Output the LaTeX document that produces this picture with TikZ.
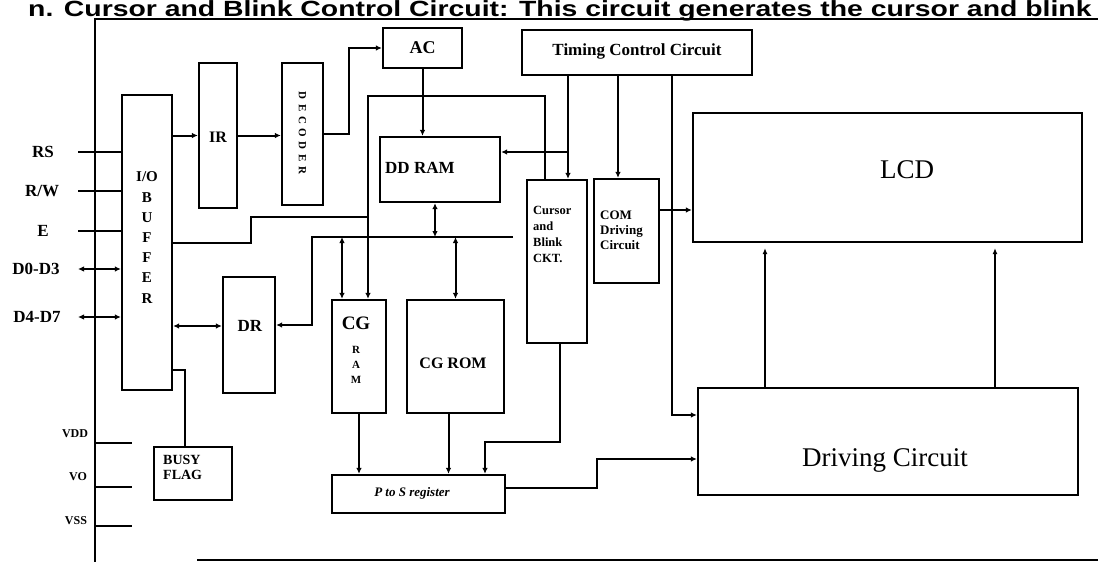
\documentclass[tikz,border=0pt]{standalone}
\usepackage{graphicx}
\usepackage{fontspec}
\setmainfont{Liberation Serif}
\newfontfamily\titlefont{Liberation Sans}
\usetikzlibrary{arrows.meta,calc}
\begin{document}
\begin{tikzpicture}[x=1pt,y=-1pt,
  box/.style={draw,line width=2.2pt,inner sep=0pt},
  conn/.style={line width=2pt},
  arr/.style={conn,-{Latex[length=6pt,width=5.5pt]}},
  biarr/.style={conn,{Latex[length=6pt,width=5.5pt]}-{Latex[length=6pt,width=5.5pt]}},
  thinarr/.style={line width=1.4pt,-{Latex[length=6pt,width=5pt]},shorten >=5pt},
  lbl/.style={inner sep=0pt,font=\bfseries\fontsize{17}{19}\selectfont},
  small/.style={inner sep=0pt,align=left,anchor=north west},
]
\fill[white] (0,0) rectangle (1098,562);
\useasboundingbox (0,0) rectangle (1098,562);

% title and frame
\node[anchor=base west,inner sep=0pt,font=\titlefont\bfseries\fontsize{22}{24}\selectfont] (title) at (28,16.5) {\scalebox{1.29}[1]{n. Cursor and Blink Control Circuit: This circuit generates the cursor and blink}};
\draw[line width=2pt] (95,562) -- (95,19) -- (1098,19);
\draw[line width=2pt] (197,560) -- (1098,560);

% boxes
\node[box,minimum width=50pt,minimum height=295pt] (io) at (147,242.5) {};
\node[box,minimum width=38pt,minimum height=145pt] (ir) at (218,135.5) {};
\node[box,minimum width=41pt,minimum height=142pt] (dec) at (302.5,134) {};
\node[box,minimum width=79pt,minimum height=40pt] (ac) at (422.5,48) {};
\node[box,minimum width=230pt,minimum height=45pt] (tcc) at (637,52.5) {};
\node[box,minimum width=120pt,minimum height=65pt] (ddram) at (440,169.5) {};
\node[box,minimum width=60pt,minimum height=163pt] (cur) at (557,261.5) {};
\node[box,minimum width=65pt,minimum height=104pt] (com) at (626.5,231) {};
\node[box,minimum width=389pt,minimum height=129pt] (lcd) at (887.5,177.5) {};
\node[box,minimum width=380pt,minimum height=107pt] (drv) at (888,441.5) {};
\node[box,minimum width=52pt,minimum height=116pt] (dr) at (249,335) {};
\node[box,minimum width=54pt,minimum height=113pt] (cgram) at (359,356.5) {};
\node[box,minimum width=97pt,minimum height=113pt] (cgrom) at (455.5,356.5) {};
\node[box,minimum width=173pt,minimum height=38pt] (ps) at (418.5,494) {};
\node[box,minimum width=78pt,minimum height=53pt] (busy) at (193,473.5) {};

% labels
\node[lbl,align=center,font=\bfseries\fontsize{15}{20.2}\selectfont] (iolbl) at (147,237.5) {I/O\\B\\U\\F\\F\\E\\R};
\node[lbl,font=\bfseries\fontsize{16}{18}\selectfont] (irlbl) at (218,137) {IR};
\node[rotate=-90,inner sep=0pt,font=\bfseries\fontsize{11}{12}\selectfont] (declbl) at (302.5,133) {D\kern4.5pt E\kern4.5pt C\kern4.5pt O\kern4.5pt D\kern4.5pt E\kern4.5pt R};
\node[lbl,font=\bfseries\fontsize{18}{20}\selectfont] (aclbl) at (422.5,48) {AC};
\node[lbl,font=\bfseries\fontsize{17}{19}\selectfont] (tcclbl) at (637,51) {Timing Control Circuit};
\node[lbl,anchor=west] (ddlbl) at (385,168) {DD RAM};
\node[small,font=\bfseries\fontsize{12.5}{16}\selectfont] (curlbl) at (533,206) {Cursor\\and\\Blink\\CKT.};
\node[small,font=\bfseries\fontsize{13}{15}\selectfont] (comlbl) at (600,211) {COM\\Driving\\Circuit};
\node[inner sep=0pt,font=\fontsize{27}{30}\selectfont] (lcdlbl) at (907,170) {LCD};
\node[inner sep=0pt,font=\fontsize{27}{30}\selectfont] (drvlbl) at (885,460) {Driving Circuit};
\node[lbl] (drlbl) at (250,326) {DR};
\node[lbl,font=\bfseries\fontsize{19}{21}\selectfont] (cglbl) at (356,323) {CG};
\node[inner sep=0pt,align=center,font=\bfseries\fontsize{11}{15}\selectfont] (ramlbl) at (356,365) {R\\A\\M};
\node[lbl,font=\bfseries\fontsize{16}{18}\selectfont] (cgromlbl) at (453,363) {CG ROM};
\node[inner sep=0pt,font=\bfseries\itshape\fontsize{13}{15}\selectfont] (pslbl) at (412,493) {P to S register};
\node[small,font=\bfseries\fontsize{14}{15}\selectfont] (busylbl) at (163,455) {BUSY\\FLAG};

% signal pins
\node[lbl] (lrs) at (43,152) {RS};
\node[lbl] (lrw) at (42,191) {R/W};
\node[lbl] (le) at (43,231) {E};
\node[lbl] (ld0) at (36,269) {D0-D3};
\node[lbl] (ld4) at (37,317) {D4-D7};
\coordinate (crs) at (78,152);
\coordinate (crw) at (78,191);
\coordinate (ce) at (78,231);
\coordinate (cd0) at (78,269);
\coordinate (cd4) at (78,317);
\draw[conn] (crs) -- (crs -| io.west);
\draw[conn] (crw) -- (crw -| io.west);
\draw[conn] (ce) -- (ce -| io.west);
\draw[biarr] (cd0) -- (cd0 -| io.west);
\draw[biarr] (cd4) -- (cd4 -| io.west);

% power pins
\node[inner sep=0pt,font=\bfseries\fontsize{12}{14}\selectfont] (lvdd) at (75,434) {VDD};
\node[inner sep=0pt,font=\bfseries\fontsize{12}{14}\selectfont] (lvo) at (78,477) {VO};
\node[inner sep=0pt,font=\bfseries\fontsize{12}{14}\selectfont] (lvss) at (76,521) {VSS};
\coordinate (pvdd) at (95,443);
\coordinate (pvo) at (95,487);
\coordinate (pvss) at (95,526);
\draw[conn] (pvdd) -- ++(37,0);
\draw[conn] (pvo) -- ++(37,0);
\draw[conn] (pvss) -- ++(37,0);

% connections
\draw[arr] (ir.west -| io.east) -- (ir.west);
\draw[arr] (ir.east) -- (ir.east -| dec.west);
\draw[arr] (dec.east) -- ++(25,0) |- (ac.west);
\draw[arr] (ac.south) -- (ac.south |- ddram.north);

\coordinate (tx1) at (568,0);
\coordinate (tx2) at (618,0);
\coordinate (tx3) at (672,0);
\coordinate (ddE) at ([yshift=17.5pt]ddram.east);
\coordinate (drvT) at ([yshift=26.5pt]drv.west);
\draw[arr] (tcc.south -| tx1) -- (cur.north -| tx1);
\draw[arr] (tcc.south -| tx2) -- (com.north -| tx2);
\draw[arr] (tcc.south -| tx3) |- (drvT);
\draw[arr] (ddE -| tx1) -- (ddE);

\coordinate (curT) at ([xshift=-12pt]cur.north);
\coordinate (cgrT2) at ([xshift=9pt]cgram.north);
\draw[arr] (curT) -- ++(0,-83) -| (cgrT2);

\coordinate (j1) at (368,217);
\draw[conn] (io.east) -- ++(78,0) |- (j1);

\coordinate (busL) at (312,237);
\coordinate (busR) at (513,237);
\coordinate (drE) at ([yshift=10pt]dr.east);
\draw[arr] (busR) -- (busL) |- (drE);

\coordinate (cgrT) at ([xshift=-17pt]cgram.north);
\draw[biarr] (cgrT |- busL) -- (cgrT);
\draw[biarr] (cgrom.north |- busL) -- (cgrom.north);
\coordinate (ddS) at ([xshift=-5pt]ddram.south);
\draw[biarr] (ddS) -- (ddS |- busL);

\coordinate (drW) at ([yshift=9pt]dr.west);
\draw[biarr] (drW -| io.east) -- (drW);

\coordinate (ioB) at ([yshift=-127.5pt]io.east);
\coordinate (bsN) at ([xshift=-8pt]busy.north);
\draw[conn] (ioB) -| (bsN);

\draw[arr] (cgram.south) -- (cgram.south |- ps.north);
\coordinate (crS) at ([xshift=-7pt]cgrom.south);
\draw[arr] (crS) -- (crS |- ps.north);
\coordinate (cuS) at ([xshift=3pt]cur.south);
\coordinate (psN) at ([xshift=66.5pt]ps.north);
\draw[arr] (cuS) -- ++(0,98) -| (psN);

\coordinate (psE) at ([yshift=6pt]ps.east);
\coordinate (drvW2) at ([yshift=-17.5pt]drv.west);
\draw[arr] (psE) -- ++(91,0) |- (drvW2);

\coordinate (comE) at ([yshift=21pt]com.east);
\draw[arr] (comE) -- (comE -| lcd.west);

\coordinate (dv1) at ([xshift=-123pt]drv.north);
\coordinate (dv2) at ([xshift=107pt]drv.north);
\draw[thinarr] (dv1) -- (dv1 |- lcd.south);
\draw[thinarr] (dv2) -- (dv2 |- lcd.south);
\end{tikzpicture}
\end{document}
